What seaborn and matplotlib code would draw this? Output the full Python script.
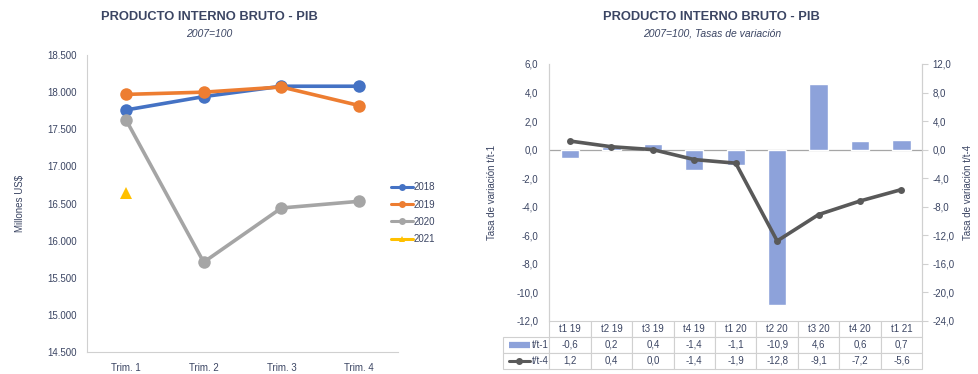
import numpy as np
import pandas as pd
import matplotlib
matplotlib.use("Agg")
import matplotlib.pyplot as plt
import seaborn as sns
from matplotlib.lines import Line2D
from matplotlib.ticker import FuncFormatter, MultipleLocator

# Datos: PIB trimestral (millones US$)
trimestres = ["Trim. 1", "Trim. 2", "Trim. 3", "Trim. 4"]
pib_2018 = [17760, 17940, 18080, 18080]
pib_2019 = [17970, 18000, 18070, 17820]
pib_2020 = [17630, 15710, 16440, 16530]
pib_2021 = [16640]

# Datos: tasas de variacion
periodos = ["t1 19", "t2 19", "t3 19", "t4 19", "t1 20", "t2 20", "t3 20", "t4 20", "t1 21"]
var_t1 = [-0.6, 0.2, 0.4, -1.4, -1.1, -10.9, 4.6, 0.6, 0.7]
var_t4 = [1.2, 0.4, 0.0, -1.4, -1.9, -12.8, -9.1, -7.2, -5.6]

sns.set_style("white")
plt.rcParams["font.family"] = ["Liberation Sans", "DejaVu Sans"]

TXT = "#3b4563"
GRID = "#d0d0d0"
colores = {"2018": "#4472C4", "2019": "#ED7D31", "2020": "#A5A5A5", "2021": "#FFC000"}
marcas = {"2018": "o", "2019": "o", "2020": "o", "2021": "^"}

fig = plt.figure(figsize=(9.79, 3.74), dpi=100)

# ---------------- Grafico izquierdo ----------------
ax1 = fig.add_axes([0.0889, 0.0588, 0.3177, 0.794])
filas = []
for anio, vals in [("2018", pib_2018), ("2019", pib_2019), ("2020", pib_2020), ("2021", pib_2021)]:
    for t, v in zip(trimestres, vals):
        filas.append({"trim": t, "anio": anio, "valor": v})
df = pd.DataFrame(filas)

sns.lineplot(data=df, x="trim", y="valor", hue="anio", style="anio",
             palette=colores, markers=marcas, dashes=False, sort=False,
             linewidth=2.6, markersize=9, markeredgewidth=0, ax=ax1, legend=False)

ax1.set_xlim(-0.5, 3.5)
ax1.set_ylim(14500, 18500)
ax1.yaxis.set_major_locator(MultipleLocator(500))
ax1.yaxis.set_major_formatter(FuncFormatter(lambda v, p: f"{v:,.0f}".replace(",", ".")))
ax1.set_xlabel("")
ax1.set_ylabel("Millones US$", fontsize=7, color=TXT, labelpad=16)
ax1.set_xticks(range(4))
ax1.set_xticklabels(trimestres)
ax1.set_xticks([-0.5, 0.5, 1.5, 2.5, 3.5], minor=True)
ax1.tick_params(axis="x", which="major", length=0, labelsize=7, colors=TXT, pad=8)
ax1.tick_params(axis="x", which="minor", length=4, color=GRID, direction="out")
ax1.tick_params(axis="y", length=4, color=GRID, labelsize=7, labelcolor=TXT, direction="out")
for s in ["top", "right"]:
    ax1.spines[s].set_visible(False)
for s in ["left", "bottom"]:
    ax1.spines[s].set_color(GRID)

handles = [Line2D([0], [0], color=colores[a], marker=marcas[a], markersize=5,
                  markeredgewidth=0, linewidth=2.2) for a in colores]
fig.legend(handles, list(colores), loc="center left", bbox_to_anchor=(0.39, 0.43),
           frameon=False, fontsize=7, labelcolor=TXT, handlelength=2.3,
           handletextpad=0.1, labelspacing=0.75)

fig.text(0.214, 0.955, "PRODUCTO INTERNO BRUTO - PIB", ha="center", va="center",
         fontsize=9.3, fontweight="bold", color=TXT)
fig.text(0.214, 0.91, "2007=100", ha="center", va="center",
         fontsize=7.5, style="italic", color=TXT)

# ---------------- Grafico derecho ----------------
ax2 = fig.add_axes([0.561, 0.142, 0.381, 0.687])
df2 = pd.DataFrame({"periodo": periodos, "t1": var_t1, "t4": var_t4})
sns.barplot(data=df2, x="periodo", y="t1", color="#8DA2DA", saturation=1,
            width=0.44, ax=ax2)
ax2.axhline(0, color="#a6a6a6", linewidth=0.9, zorder=0)
ax2.set_xlim(-0.5, 8.5)
ax2.set_ylim(-12, 6)
ax2.yaxis.set_major_locator(MultipleLocator(2))
fmt = FuncFormatter(lambda v, p: f"{v:.1f}".replace(".", ","))
ax2.yaxis.set_major_formatter(fmt)
ax2.set_xlabel("")
ax2.set_xticks([])
ax2.set_ylabel("Tasa de variación t/t-1", fontsize=7, color=TXT, labelpad=14)
ax2.tick_params(axis="y", length=0, labelsize=7, labelcolor=TXT, pad=8)

ax3 = ax2.twinx()
sns.lineplot(data=df2, x="periodo", y="t4", sort=False, color="#595959",
             linewidth=2.6, marker="o", markersize=5, markeredgewidth=0, ax=ax3)
ax3.set_xlim(-0.5, 8.5)
ax3.set_ylim(-24, 12)
ax3.yaxis.set_major_locator(MultipleLocator(4))
ax3.yaxis.set_major_formatter(fmt)
ax3.set_xlabel("")
ax3.set_xticks([])
ax3.set_ylabel("Tasa de variación t/t-4", fontsize=7, color=TXT, labelpad=6)
ax3.yaxis.set_label_position("right")
ax3.tick_params(axis="y", length=4, color=GRID, labelsize=7, labelcolor=TXT, direction="out")

for a in (ax2, ax3):
    a.spines["top"].set_visible(False)
    a.spines["bottom"].set_visible(False)
    a.spines["left"].set_color(GRID)
    a.spines["right"].set_color(GRID)

# Tabla de datos bajo el grafico
f = lambda v: f"{v:.1f}".replace(".", ",")
celdas = [[""] + periodos,
          ["t/t-1"] + [f(v) for v in var_t1],
          ["t/t-4"] + [f(v) for v in var_t4]]
lw = 0.123
rh = 0.0623
tabla = ax2.table(cellText=celdas, colWidths=[lw] + [1 / 9] * 9,
                  bbox=[-lw, -3 * rh, 1 + lw, 3 * rh], cellLoc="center")
tabla.auto_set_font_size(False)
tabla.set_fontsize(7)
for (r, c), cell in tabla.get_celld().items():
    cell.set_edgecolor(GRID)
    cell.set_linewidth(0.8)
    cell.get_text().set_color(TXT)
    if r == 0 and c == 0:
        cell.visible_edges = ""
    if c == 0 and r > 0:
        cell.get_text().set_ha("right")
        cell.PAD = 0.02
        cell._loc = "right"

# simbolos de leyenda dentro de la tabla
ax2.plot([-0.108, -0.052], [-1.5 * rh, -1.5 * rh], transform=ax2.transAxes,
         color="#8DA2DA", linewidth=4.5, solid_capstyle="butt", clip_on=False)
ax2.plot([-0.108, -0.052], [-2.5 * rh, -2.5 * rh], transform=ax2.transAxes,
         color="#595959", linewidth=2.2, clip_on=False)
ax2.plot([-0.08], [-2.5 * rh], transform=ax2.transAxes, color="#595959",
         marker="o", markersize=4, clip_on=False)

fig.text(0.727, 0.955, "PRODUCTO INTERNO BRUTO - PIB", ha="center", va="center",
         fontsize=9.3, fontweight="bold", color=TXT)
fig.text(0.727, 0.91, "2007=100, Tasas de variación", ha="center", va="center",
         fontsize=7.5, style="italic", color=TXT)

fig.savefig("out.png", dpi=100)
